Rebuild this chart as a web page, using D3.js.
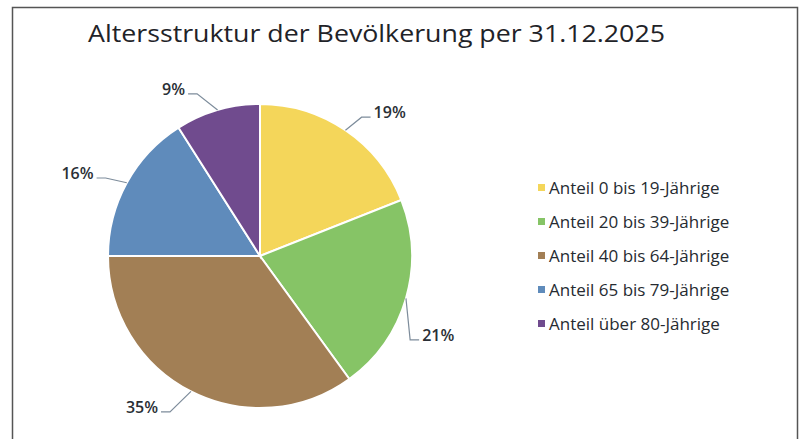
<!DOCTYPE html>
<html>
<head>
<meta charset="utf-8">
<script src="https://cdn.jsdelivr.net/npm/d3@7"></script>
<style>
  body { margin: 0; background: #fff; }
  svg { display: block; }
</style>
</head>
<body>
<svg id="chart" width="805" height="439"></svg>
<script>
// Altersstruktur der Bevölkerung - Kuchendiagramm

var titel = "Altersstruktur der Bevölkerung per 31.12.2025";
var kategorien = ["Anteil 0 bis 19-Jährige", "Anteil 20 bis 39-Jährige", "Anteil 40 bis 64-Jährige", "Anteil 65 bis 79-Jährige", "Anteil über 80-Jährige"];
var anteile = [19, 21, 35, 16, 9];
var farben = ["#f4d65a", "#86c466", "#a27f55", "#5f8bbb", "#704b8e"];

// kleine Korrekturen der Beschriftungen (Grad, Radius), wie Excel sie setzt
var labelWinkel = [2, 13, 3, -2, -5];
var labelRadius = [172, 172, 180, 173, 174];

var width = 805, height = 439;
var cx = 260, cy = 256, r = 152;

var svg = d3.select("#chart");

// Rahmen
svg.append("rect")
  .attr("x", 12.5).attr("y", 7.5)
  .attr("width", 785).attr("height", 440)
  .attr("fill", "#fff")
  .attr("stroke", "#555")
  .attr("stroke-width", 1.5);

// Titel
var t = svg.append("text")
  .attr("x", 88).attr("y", 42)
  .attr("font-family", "Open Sans, sans-serif")
  .attr("font-size", 24.5)
  .attr("fill", "#1f2328")
  .text(titel);
// auf die Breite des Originals bringen
t.attr("textLength", 577).attr("lengthAdjust", "spacingAndGlyphs");

var pie = d3.pie().sort(null).value(d => d);
var arc = d3.arc().innerRadius(0).outerRadius(r);
var arcs = pie(anteile);

var g = svg.append("g").attr("transform", `translate(${cx},${cy})`);

g.selectAll("path")
  .data(arcs)
  .join("path")
  .attr("d", arc)
  .attr("fill", (d, i) => farben[i])
  .attr("stroke", "#fff")
  .attr("stroke-width", 2);

// Beschriftungen mit Führungslinien
var fmt = d => d + "%";
function polar(a, rad) {
  return [Math.sin(a) * rad, -Math.cos(a) * rad];
}

arcs.forEach((d, i) => {
  var mid = (d.startAngle + d.endAngle) / 2;
  var p0 = polar(mid, r);
  var p1 = polar(mid + labelWinkel[i] * Math.PI / 180, labelRadius[i]);
  var rechts = p1[0] > 0;
  var p2 = [p1[0] + (rechts ? 9 : -9), p1[1]];

  g.append("polyline")
    .attr("points", [p0, p1, p2].map(p => p.join(",")).join(" "))
    .attr("fill", "none")
    .attr("stroke", "#7d8c9b")
    .attr("stroke-width", 1.2);

  g.append("text")
    .attr("x", p2[0] + (rechts ? 3 : -3))
    .attr("y", p2[1] + 1)
    .attr("text-anchor", rechts ? "start" : "end")
    .attr("font-family", "Open Sans, sans-serif")
    .attr("font-size", 16)
    .attr("font-weight", 600)
    .attr("fill", "#2a2f36")
    .text(fmt(d.data));
});

// Legende
var legende = svg.append("g").attr("transform", "translate(538,188)");
var zeile = legende.selectAll("g")
  .data(kategorien)
  .join("g")
  .attr("transform", (d, i) => `translate(0,${i * 34})`);

zeile.append("rect")
  .attr("x", 0).attr("y", -4)
  .attr("width", 7).attr("height", 7)
  .attr("fill", (d, i) => farben[i]);

zeile.append("text")
  .attr("x", 11)
  .attr("y", 6)
  .attr("font-family", "Open Sans, sans-serif")
  .attr("font-size", 17)
  .attr("fill", "#262b31")
  .text(d => d);
</script>
</body>
</html>
